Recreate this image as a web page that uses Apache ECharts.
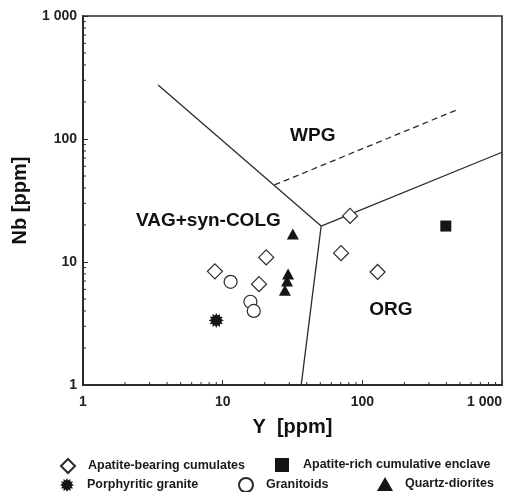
<!DOCTYPE html>
<html>
<head>
<meta charset="utf-8">
<script src="https://cdn.jsdelivr.net/npm/echarts@6/dist/echarts.min.js"></script>
<style>
  html, body { margin: 0; padding: 0; background: #fff; }
  #chart { width: 507px; height: 492px; }
</style>
</head>
<body>
<div id="chart"></div>
<script>
// sample data, [Y, Nb] in ppm
const apatiteCumulates = [[8.8, 8.4], [20.5, 10.9], [18.2, 6.6], [81.7, 23.7], [70.4, 11.8], [128.6, 8.3]]
const apatiteEnclave = [[396, 19.6]]
const porphyriticGranite = [[9.0, 3.35]]
const granitoids = [[11.4, 6.9], [15.8, 4.75], [16.7, 4.0]]
const quartzDiorites = [[31.8, 16.9], [29.4, 8.0], [28.9, 7.0], [27.9, 5.9]]

// field boundaries
const boundaryVagWpg = [[3.45, 275], [50.7, 19.6]]
const boundaryVagOrg = [[36.5, 1], [50.7, 19.6]]
const boundaryWpgOrg = [[50.7, 19.6], [1000, 78]]
const boundaryDashed = [[23.5, 42.3], [472, 172]]

// field labels
const fieldLabels = [
  { name: 'WPG', value: [44.2, 105.7] },
  { name: 'VAG+syn-COLG', value: [7.9, 21.5] },
  { name: 'ORG', value: [160, 4.07] }
]

const minorTicks = []
for (const d of [1, 10, 100]) {
  for (let k = 2; k <= 9; k++) minorTicks.push(k * d)
}

// spiky star symbol for porphyritic granite
function starPath(points) {
  let p = ''
  for (let i = 0; i < points * 2; i++) {
    const r = i % 2 === 0 ? 50 : 34
    const a = Math.PI * i / points - Math.PI / 2
    const x = (50 + r * Math.cos(a)).toFixed(2)
    const y = (50 + r * Math.sin(a)).toFixed(2)
    p += (i === 0 ? 'M' : 'L') + x + ' ' + y + ' '
  }
  return 'path://' + p + 'Z'
}

const fmt = v => (v >= 1000 ? '1 000' : String(v))
const ink = '#2b2b2b'
const font = 'Liberation Sans, Arial, sans-serif'

const chart = echarts.init(document.getElementById('chart'))

const lineSeries = (data, dashed) => ({
  type: 'line',
  data: data,
  symbol: 'none',
  silent: true,
  lineStyle: { color: ink, width: 1.3, type: dashed ? [6, 4] : 'solid' },
  z: 2
})

// minor ticks (2..9 in each decade), inside both axes
const tickSeries = {
  type: 'custom',
  silent: true,
  clip: false,
  data: minorTicks.map(v => [v]),
  renderItem: (params, api) => {
    const v = api.value(0)
    const px = api.coord([v, 1])
    const py = api.coord([1, v])
    return {
      type: 'group',
      children: [
        { type: 'line', shape: { x1: px[0], y1: px[1], x2: px[0], y2: px[1] - 3 }, style: { stroke: ink, lineWidth: 1 } },
        { type: 'line', shape: { x1: py[0], y1: py[1], x2: py[0] + 3, y2: py[1] }, style: { stroke: ink, lineWidth: 1 } }
      ]
    }
  },
  z: 3
}

const hollow = { color: '#fff', borderColor: ink, borderWidth: 1.2, opacity: 1 }
const solid = { color: '#151515', opacity: 1 }

const legendBase = {
  orient: 'horizontal',
  padding: 0,
  itemWidth: 14,
  itemHeight: 14,
  textStyle: { fontFamily: font, fontWeight: 'bold', fontSize: 12.5, color: '#1a1a1a', padding: [0, 0, 0, 8] }
}
const legendAt = (left, top, name, extra) =>
  Object.assign({}, legendBase, { left: left, top: top, data: [name] }, extra || {})

chart.setOption({
  animation: false,
  backgroundColor: '#fff',
  grid: {
    left: 83, right: 5, top: 16, bottom: 107,
    outerBoundsMode: 'none',
    show: true, borderColor: ink, borderWidth: 1.6, backgroundColor: 'transparent'
  },
  legend: [
    legendAt(60, 458, 'Apatite-bearing cumulates'),
    legendAt(275, 458, 'Apatite-rich cumulative enclave', { textStyle: Object.assign({}, legendBase.textStyle, { padding: [0, 0, 0, 9] }) }),
    legendAt(60, 478, 'Porphyritic granite'),
    legendAt(238, 477, 'Granitoids'),
    legendAt(377, 477, 'Quartz-diorites', { itemWidth: 16, textStyle: Object.assign({}, legendBase.textStyle, { padding: [0, 0, 0, 7] }) })
  ],
  xAxis: {
    type: 'log', logBase: 10, min: 1, max: 1000,
    name: 'Y  [ppm]', nameLocation: 'middle', nameGap: 32,
    nameTextStyle: { fontFamily: font, fontWeight: 'bold', fontSize: 20, color: '#111' },
    axisLine: { lineStyle: { color: ink, width: 2 } },
    axisTick: { inside: true, length: 5, lineStyle: { color: ink } },
    axisLabel: { formatter: fmt, fontFamily: font, fontWeight: 'bold', fontSize: 14, color: '#222', margin: 10, alignMaxLabel: 'right' },
    splitLine: { show: false }
  },
  yAxis: {
    type: 'log', logBase: 10, min: 1, max: 1000,
    name: 'Nb [ppm]', nameLocation: 'middle', nameGap: 53, nameRotate: 90,
    nameTextStyle: { fontFamily: font, fontWeight: 'bold', fontSize: 20, color: '#111' },
    axisLine: { lineStyle: { color: ink, width: 2 } },
    axisTick: { inside: true, length: 5, lineStyle: { color: ink } },
    axisLabel: { formatter: fmt, fontFamily: font, fontWeight: 'bold', fontSize: 14, color: '#222', margin: 6 },
    splitLine: { show: false }
  },
  series: [
    lineSeries(boundaryVagWpg),
    lineSeries(boundaryVagOrg),
    lineSeries(boundaryWpgOrg),
    lineSeries(boundaryDashed, true),
    tickSeries,
    {
      type: 'scatter', silent: true, symbolSize: 0, data: fieldLabels,
      itemStyle: { opacity: 1 },
      label: {
        show: true, position: 'inside', formatter: '{b}',
        fontFamily: font, fontWeight: 'bold', fontSize: 19, color: '#111'
      },
      z: 4
    },
    {
      name: 'Apatite-bearing cumulates', type: 'scatter', symbol: 'diamond', symbolSize: 15,
      data: apatiteCumulates, itemStyle: hollow, z: 5
    },
    {
      name: 'Apatite-rich cumulative enclave', type: 'scatter', symbol: 'rect', symbolSize: 11,
      data: apatiteEnclave, itemStyle: solid, z: 5
    },
    {
      name: 'Porphyritic granite', type: 'scatter', symbol: starPath(12), symbolSize: 15,
      data: porphyriticGranite, itemStyle: solid, z: 5
    },
    {
      name: 'Granitoids', type: 'scatter', symbol: 'circle', symbolSize: 13,
      data: granitoids, itemStyle: hollow, z: 5
    },
    {
      name: 'Quartz-diorites', type: 'scatter', symbol: 'triangle', symbolSize: [12, 11],
      data: quartzDiorites, itemStyle: solid, z: 5
    }
  ]
})
</script>
</body>
</html>
